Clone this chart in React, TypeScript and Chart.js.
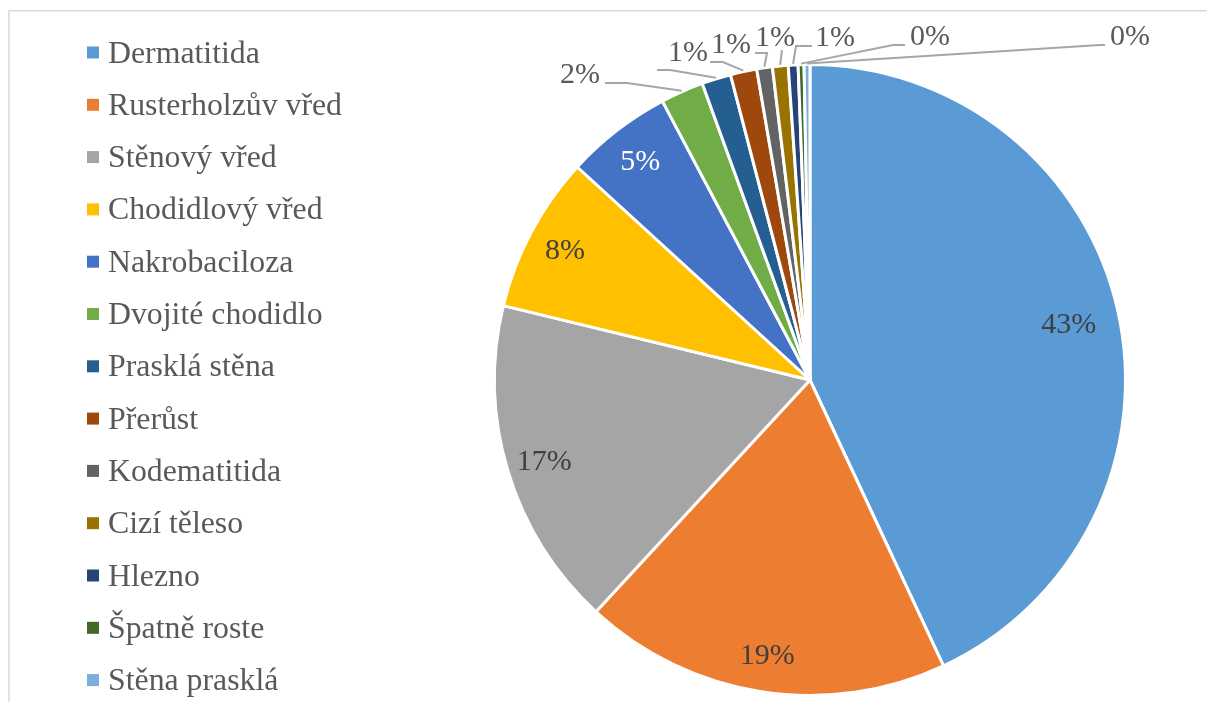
import React, { useEffect, useRef } from "react";
import { Chart, registerables } from "chart.js";

Chart.register(...registerables);

const categories = [
  "Dermatitida",
  "Rusterholzův vřed",
  "Stěnový vřed",
  "Chodidlový vřed",
  "Nakrobaciloza",
  "Dvojité chodidlo",
  "Prasklá stěna",
  "Přerůst",
  "Kodematitida",
  "Cizí těleso",
  "Hlezno",
  "Špatně roste",
  "Stěna prasklá",
];

const shares = [43.0, 18.8, 16.9, 8.0, 5.45, 2.2, 1.49, 1.35, 0.8, 0.8, 0.5, 0.3, 0.3];

const colors = [
  "#5B9BD5",
  "#ED7D31",
  "#A5A5A5",
  "#FFC000",
  "#4472C4",
  "#70AD47",
  "#255E91",
  "#9E480E",
  "#636363",
  "#997300",
  "#264478",
  "#43682B",
  "#7CAFDD",
];

// layout of the outside labels (relative to the pie centre)
const outsideLabels = [
  { i: 5, lx: -230, ly: -307, path: [[-183, -297], [-205, -297]], text: true },
  { i: 6, lx: -122, ly: -329, path: [[-140, -310], [-153, -310]], text: true },
  { i: 7, lx: -79, ly: -337, path: [[-87, -318], [-100, -318]], text: true },
  { i: 8, lx: -35, ly: -344, path: [[-43, -327], [-55, -327]], text: true },
  { i: 9, lx: -35, ly: -344, path: [[-28, -330]], text: false },
  { i: 10, lx: 25, ly: -344, path: [[-14, -334], [2, -334]], text: true },
  { i: 11, lx: 120, ly: -345, path: [[83, -335], [95, -335]], text: true },
  { i: 12, lx: 320, ly: -345, path: [[290, -335], [295, -335]], text: true },
];

const SERIF = '"Liberation Serif", "Times New Roman", serif';

const decorPlugin = {
  id: "decor",
  beforeDraw(chart: any) {
    const ctx = chart.ctx;
    ctx.save();
    // frame
    ctx.strokeStyle = "#d9d9d9";
    ctx.lineWidth = 1.5;
    ctx.beginPath();
    ctx.moveTo(9, 702);
    ctx.lineTo(9, 10.75);
    ctx.lineTo(1207, 10.75);
    ctx.stroke();
    // legend
    const labels = chart.data.labels as string[];
    const bg = chart.data.datasets[0].backgroundColor as string[];
    ctx.font = `31.8px ${SERIF}`;
    ctx.textAlign = "left";
    ctx.textBaseline = "alphabetic";
    labels.forEach((lab, k) => {
      const cy = 52.5 + k * 52.3;
      ctx.fillStyle = bg[k];
      ctx.fillRect(87, cy - 6, 12, 12);
      ctx.fillStyle = "#595959";
      ctx.fillText(lab, 108, cy + 10);
    });
    ctx.restore();
  },
  afterDraw(chart: any) {
    const ctx = chart.ctx;
    const meta = chart.getDatasetMeta(0);
    const values = chart.data.datasets[0].data as number[];
    const total = values.reduce((a, b) => a + b, 0);
    const pct = (k: number) => Math.round((values[k] / total) * 100) + "%";
    ctx.save();
    ctx.font = `30px ${SERIF}`;
    ctx.textAlign = "center";
    ctx.textBaseline = "alphabetic";
    // inside labels
    for (let k = 0; k < 5; k++) {
      const arc = meta.data[k] as any;
      const p = arc.getProps(["x", "y", "startAngle", "endAngle", "outerRadius"], true);
      const mid = (p.startAngle + p.endAngle) / 2;
      const rr = p.outerRadius * (k === 0 ? 0.84 : 0.88);
      const x = p.x + Math.cos(mid) * rr;
      const y = p.y + Math.sin(mid) * rr;
      ctx.fillStyle = k === 4 ? "#ffffff" : "#404040";
      ctx.fillText(pct(k), x, y + 10);
    }
    // outside labels with leader lines
    outsideLabels.forEach((o) => {
      const arc = meta.data[o.i] as any;
      const p = arc.getProps(["x", "y", "startAngle", "endAngle", "outerRadius"], true);
      const mid = (p.startAngle + p.endAngle) / 2;
      const r0 = p.outerRadius + 1;
      ctx.strokeStyle = "#a6a6a6";
      ctx.lineWidth = 2;
      ctx.beginPath();
      ctx.moveTo(p.x + Math.cos(mid) * r0, p.y + Math.sin(mid) * r0);
      o.path.forEach(([dx, dy]) => ctx.lineTo(p.x + dx, p.y + dy));
      ctx.stroke();
      if (o.text) {
        ctx.fillStyle = "#595959";
        ctx.fillText(pct(o.i), p.x + o.lx, p.y + o.ly + 10);
      }
    });
    ctx.restore();
  },
};

export default function App() {
  const ref = useRef<HTMLCanvasElement | null>(null);
  useEffect(() => {
    if (!ref.current) return;
    const chart = new Chart(ref.current, {
      type: "pie",
      data: {
        labels: categories,
        datasets: [
          {
            data: shares,
            backgroundColor: colors,
            borderColor: "#ffffff",
            borderWidth: 3,
          },
        ],
      },
      options: {
        responsive: false,
        animation: false,
        devicePixelRatio: 1,
        layout: { padding: { left: 493, right: 80, top: 63, bottom: 5 } },
        plugins: {
          legend: { display: false },
          tooltip: { enabled: false },
        },
      },
      plugins: [decorPlugin],
    });
    return () => chart.destroy();
  }, []);
  return (
    <div style={{ position: "absolute", left: 0, top: 0, width: 1207, height: 702, background: "#fff" }}>
      <canvas ref={ref} width={1207} height={702} style={{ width: 1207, height: 702, display: "block" }} />
    </div>
  );
}
